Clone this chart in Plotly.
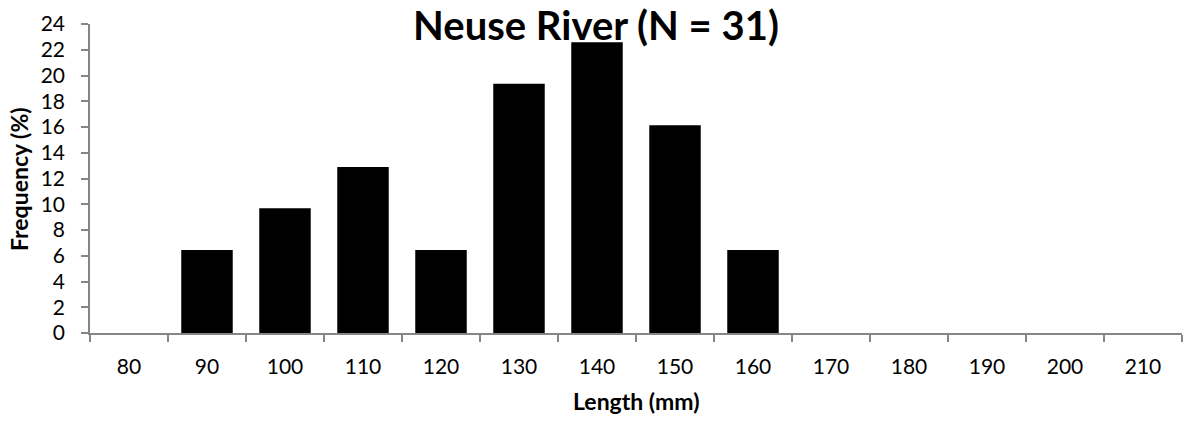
import plotly.graph_objects as go

# Length classes (mm) and percentage of fish in each class
length_bins = ["80", "90", "100", "110", "120", "130", "140", "150",
               "160", "170", "180", "190", "200", "210"]
frequency_pct = [0, 6.45, 9.68, 12.90, 6.45, 19.35, 22.58, 16.13,
                 6.45, 0, 0, 0, 0, 0]
y_ticks = list(range(0, 25, 2))

FONT = "Lato, 'Open Sans', sans-serif"
AXIS_GREY = "#868686"
W, H = 1183, 421

fig = go.Figure(
    go.Bar(
        x=length_bins,
        y=frequency_pct,
        marker=dict(color="black", line=dict(width=0)),
        width=0.66,
    )
)

fig.update_layout(
    width=W,
    height=H,
    margin=dict(l=90, r=1, t=24, b=88),
    paper_bgcolor="white",
    plot_bgcolor="white",
    showlegend=False,
    font=dict(family=FONT, color="black"),
    title=dict(
        text="<b>Neuse River (N = 31)</b>",
        font=dict(family=FONT, size=40, color="black"),
        x=596 / W, xref="container", xanchor="center",
        y=1 - 26 / H, yref="container", yanchor="middle",
    ),
    annotations=[
        dict(text="<b>Length (mm)</b>", xref="paper", yref="paper",
             x=0.5, y=-(401 - 333) / (333 - 24), xanchor="center",
             yanchor="middle", showarrow=False,
             font=dict(family=FONT, size=23, color="black")),
        dict(text="<b>Frequency (%)</b>", xref="paper", yref="paper",
             x=-(90 - 19) / (1182 - 90), y=(333 - 179) / (333 - 24),
             xanchor="center", yanchor="middle", textangle=-90,
             showarrow=False,
             font=dict(family=FONT, size=23, color="black")),
    ],
)

fig.update_xaxes(
    type="category",
    tickson="boundaries",
    ticks="outside",
    ticklen=7,
    tickwidth=1.5,
    tickcolor=AXIS_GREY,
    showline=True,
    linecolor=AXIS_GREY,
    linewidth=1.5,
    showgrid=False,
    ticklabelstandoff=14,
    tickfont=dict(family=FONT, size=21, color="black"),
)

fig.update_yaxes(
    range=[0, 24],
    tickvals=y_ticks,
    ticks="outside",
    ticklen=7,
    tickwidth=1.5,
    tickcolor=AXIS_GREY,
    showline=True,
    linecolor=AXIS_GREY,
    linewidth=1.5,
    showgrid=False,
    zeroline=False,
    ticklabelstandoff=12,
    tickfont=dict(family=FONT, size=21, color="black"),
)

fig.write_html("out.html")
